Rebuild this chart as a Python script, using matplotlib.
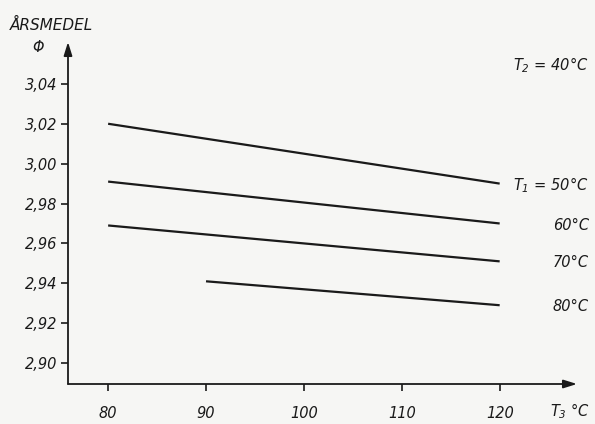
import matplotlib
matplotlib.use("Agg")
import matplotlib.pyplot as plt
import matplotlib.transforms as mtransforms
from matplotlib.ticker import FuncFormatter

plt.rcParams["font.family"] = ["DejaVu Sans"]
plt.rcParams["mathtext.fontset"] = "custom"
plt.rcParams["mathtext.it"] = "DejaVu Sans:italic"
plt.rcParams["mathtext.rm"] = "DejaVu Sans:italic"

# Annual mean Φ against T3 for several T1 values (T2 = 40 °C)
t1_labels = ["$T_1$ = 50°C", "60°C", "70°C", "80°C"]
t3_start = [80, 80, 80, 90]
t3_end = [120, 120, 120, 120]
phi_start = [3.020, 2.991, 2.969, 2.941]
phi_end = [2.990, 2.970, 2.951, 2.929]

x_ticks = [80, 90, 100, 110, 120]
y_ticks = [2.90, 2.92, 2.94, 2.96, 2.98, 3.00, 3.02, 3.04]

W, H = 595, 424
fs = 10.5
fig = plt.figure(figsize=(W / 100, H / 100), dpi=100)
bg = "#f6f6f4"
fig.patch.set_facecolor(bg)
ax = fig.add_axes([68 / W, (H - 384) / H, (577 - 68) / W, (384 - 42) / H])
ax.set_facecolor(bg)
ax.set_xlim(75.9, 127.9)
ax.set_ylim(2.8895, 3.061)

for s in ax.spines.values():
    s.set_visible(False)

ink = "#1a1a1a"
# axes with arrowheads
ax.annotate("", xy=(1.0, 0), xytext=(0, 0), xycoords="axes fraction",
            arrowprops=dict(arrowstyle="-|>,head_length=0.8,head_width=0.25",
                            color=ink, lw=1.3, shrinkA=0, shrinkB=0))
ax.annotate("", xy=(0, 1.0), xytext=(0, 0), xycoords="axes fraction",
            arrowprops=dict(arrowstyle="-|>,head_length=0.8,head_width=0.25",
                            color=ink, lw=1.3, shrinkA=0, shrinkB=0))

ax.set_xticks(x_ticks)
ax.set_yticks(y_ticks)
ax.xaxis.set_major_formatter(FuncFormatter(lambda v, p: f"{v:.0f}"))
ax.yaxis.set_major_formatter(FuncFormatter(lambda v, p: f"{v:.2f}".replace(".", ",")))
ax.tick_params(axis="both", direction="out", length=5, width=1.2, color=ink,
               labelsize=fs, labelcolor=ink)
ax.tick_params(axis="x", pad=11)
ax.tick_params(axis="y", pad=3)
for lab in ax.get_xticklabels() + ax.get_yticklabels():
    lab.set_fontstyle("italic")

for xs, xe, ys, ye in zip(t3_start, t3_end, phi_start, phi_end):
    ax.plot([xs, xe], [ys, ye], color=ink, lw=1.6, solid_capstyle="butt")

# curve labels at the right edge, level with each line end
lab_tr = mtransforms.blended_transform_factory(fig.transFigure, ax.transData)
label_x = 589 / W
for lab, ye in zip(t1_labels, phi_end):
    ax.text(label_x, ye - 0.0008, lab, ha="right", va="center", fontsize=fs,
            fontstyle="italic", color=ink, transform=lab_tr)
ax.text(label_x, 3.0495, "$T_2$ = 40°C", ha="right", va="center", fontsize=fs,
        fontstyle="italic", color=ink, transform=lab_tr)

fig.text(10 / W, 1 - 25 / H, "ÅRSMEDEL", ha="left", va="center", fontsize=fs + 0.5,
         fontstyle="italic", color=ink)
fig.text(38 / W, 1 - 48 / H, "Φ", ha="center", va="center", fontsize=fs,
         fontstyle="italic", color=ink)
fig.text(590 / W, 1 - 411 / H, "$T_3$ °C", ha="right", va="center", fontsize=fs,
         fontstyle="italic", color=ink)

fig.savefig("out.png", dpi=100, facecolor=bg)
